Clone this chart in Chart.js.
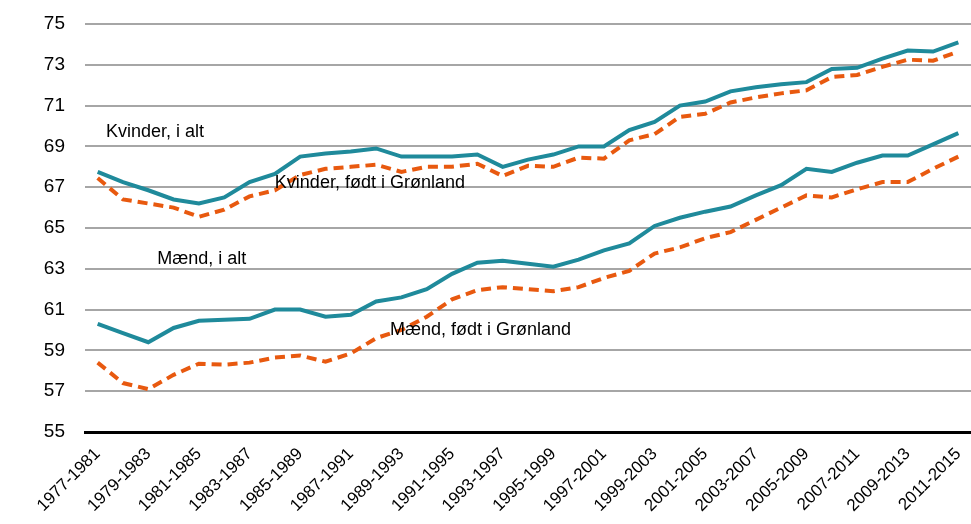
<!DOCTYPE html>
<html>
<head>
<meta charset="utf-8">
<script src="https://cdn.jsdelivr.net/npm/chart.js@4"></script>
<style>
  html, body { margin: 0; padding: 0; background: #fff; }
  #wrap { width: 971px; height: 524px; }
</style>
</head>
<body>
<div id="wrap"><canvas id="chart"></canvas></div>
<script>
const periods = [
  "1977-1981","1978-1982","1979-1983","1980-1984","1981-1985","1982-1986","1983-1987","1984-1988",
  "1985-1989","1986-1990","1987-1991","1988-1992","1989-1993","1990-1994","1991-1995","1992-1996",
  "1993-1997","1994-1998","1995-1999","1996-2000","1997-2001","1998-2002","1999-2003","2000-2004",
  "2001-2005","2002-2006","2003-2007","2004-2008","2005-2009","2006-2010","2007-2011","2008-2012",
  "2009-2013","2010-2014","2011-2015"
];
const kvinderAlt = [
  67.75, 67.25, 66.85, 66.4, 66.2, 66.5, 67.25, 67.65, 68.5, 68.65, 68.75, 68.9,
  68.5, 68.5, 68.5, 68.6, 68.0, 68.35, 68.6, 69.0, 69.0, 69.8, 70.2, 71.0,
  71.2, 71.7, 71.9, 72.05, 72.15, 72.8, 72.85, 73.3, 73.7, 73.65, 74.1
];
const kvinderGronland = [
  67.45, 66.4, 66.2, 66.0, 65.55, 65.9, 66.55, 66.85, 67.6, 67.9, 68.0, 68.1,
  67.75, 68.0, 68.0, 68.15, 67.55, 68.05, 68.0, 68.45, 68.4, 69.3, 69.6, 70.45,
  70.6, 71.15, 71.4, 71.6, 71.75, 72.4, 72.5, 72.9, 73.25, 73.2, 73.65
];
const maendAlt = [
  60.3, 59.85, 59.4, 60.1, 60.45, 60.5, 60.55, 61.0, 61.0, 60.65, 60.75, 61.4,
  61.6, 62.0, 62.75, 63.3, 63.4, 63.25, 63.1, 63.45, 63.9, 64.25, 65.1, 65.5,
  65.8, 66.05, 66.6, 67.1, 67.9, 67.75, 68.2, 68.55, 68.55, 69.1, 69.65
];
const maendGronland = [
  58.4, 57.4, 57.1, 57.8, 58.35, 58.3, 58.4, 58.65, 58.75, 58.45, 58.85, 59.6,
  60.0, 60.65, 61.5, 61.95, 62.1, 62.0, 61.9, 62.1, 62.55, 62.9, 63.75, 64.05,
  64.5, 64.8, 65.4, 66.0, 66.6, 66.5, 66.9, 67.25, 67.25, 67.9, 68.5
];

// series names written inside the plot, anchored at (category index, value)
const seriesLabels = ["Kvinder, i alt", "Kvinder, født i Grønland", "Mænd, i alt", "Mænd, født i Grønland"];
const labelIndex = [0.33, 7.0, 2.35, 11.55];
const labelValue = [69.7, 67.2, 63.5, 60.0];

const teal = "#1f8a9b";
const orange = "#e8590f";
const fontFamily = "'Liberation Sans', Arial, sans-serif";

const inlineLabels = {
  id: "inlineLabels",
  afterDatasetsDraw(chart) {
    const ctx = chart.ctx;
    const xs = chart.scales.x, ys = chart.scales.y;
    ctx.save();
    ctx.font = "18px " + fontFamily;
    ctx.fillStyle = "#000";
    ctx.textAlign = "left";
    ctx.textBaseline = "middle";
    seriesLabels.forEach((t, i) => {
      ctx.fillText(t, xs.getPixelForValue(labelIndex[i]), ys.getPixelForValue(labelValue[i]));
    });
    ctx.restore();
  }
};

function line(label, data, color, dashed) {
  return {
    label: label,
    data: data,
    borderColor: color,
    borderWidth: 4,
    borderDash: dashed ? [10, 6] : [],
    pointRadius: 0,
    fill: false,
    tension: 0,
  };
}

const ctx = document.getElementById("chart").getContext("2d");
new Chart(ctx, {
  type: "line",
  data: {
    labels: periods,
    datasets: [
      line(seriesLabels[0], kvinderAlt, teal, false),
      line(seriesLabels[1], kvinderGronland, orange, true),
      line(seriesLabels[2], maendAlt, teal, false),
      line(seriesLabels[3], maendGronland, orange, true),
    ],
  },
  options: {
    responsive: true,
    maintainAspectRatio: false,
    animation: false,
    layout: { padding: { top: 24, right: 0, left: 0, bottom: 0 } },
    plugins: { legend: { display: false }, tooltip: { enabled: false } },
    scales: {
      x: {
        offset: true,
        grid: { display: false },
        border: { display: true, color: "#000", width: 3 },
        ticks: {
          autoSkip: false,
          minRotation: 45,
          maxRotation: 45,
          color: "#000",
          padding: 4,
          font: { family: fontFamily, size: 17 },
          callback: function (v, i) { return i % 2 === 0 ? this.getLabelForValue(v) : ""; },
        },
        afterFit(scale) {
          scale.height = 92;
          scale.paddingRight = 0;
        },
      },
      y: {
        min: 55,
        max: 75,
        grid: { color: "#a6a6a6", lineWidth: 2, drawTicks: false },
        border: { display: false },
        ticks: {
          stepSize: 2,
          color: "#000",
          padding: 20,
          font: { family: fontFamily, size: 19 },
        },
        afterFit(scale) {
          scale.width = 85;
          scale.paddingTop = 0;
          scale.paddingBottom = 0;
        },
      },
    },
  },
  plugins: [inlineLabels],
});
</script>
</body>
</html>
